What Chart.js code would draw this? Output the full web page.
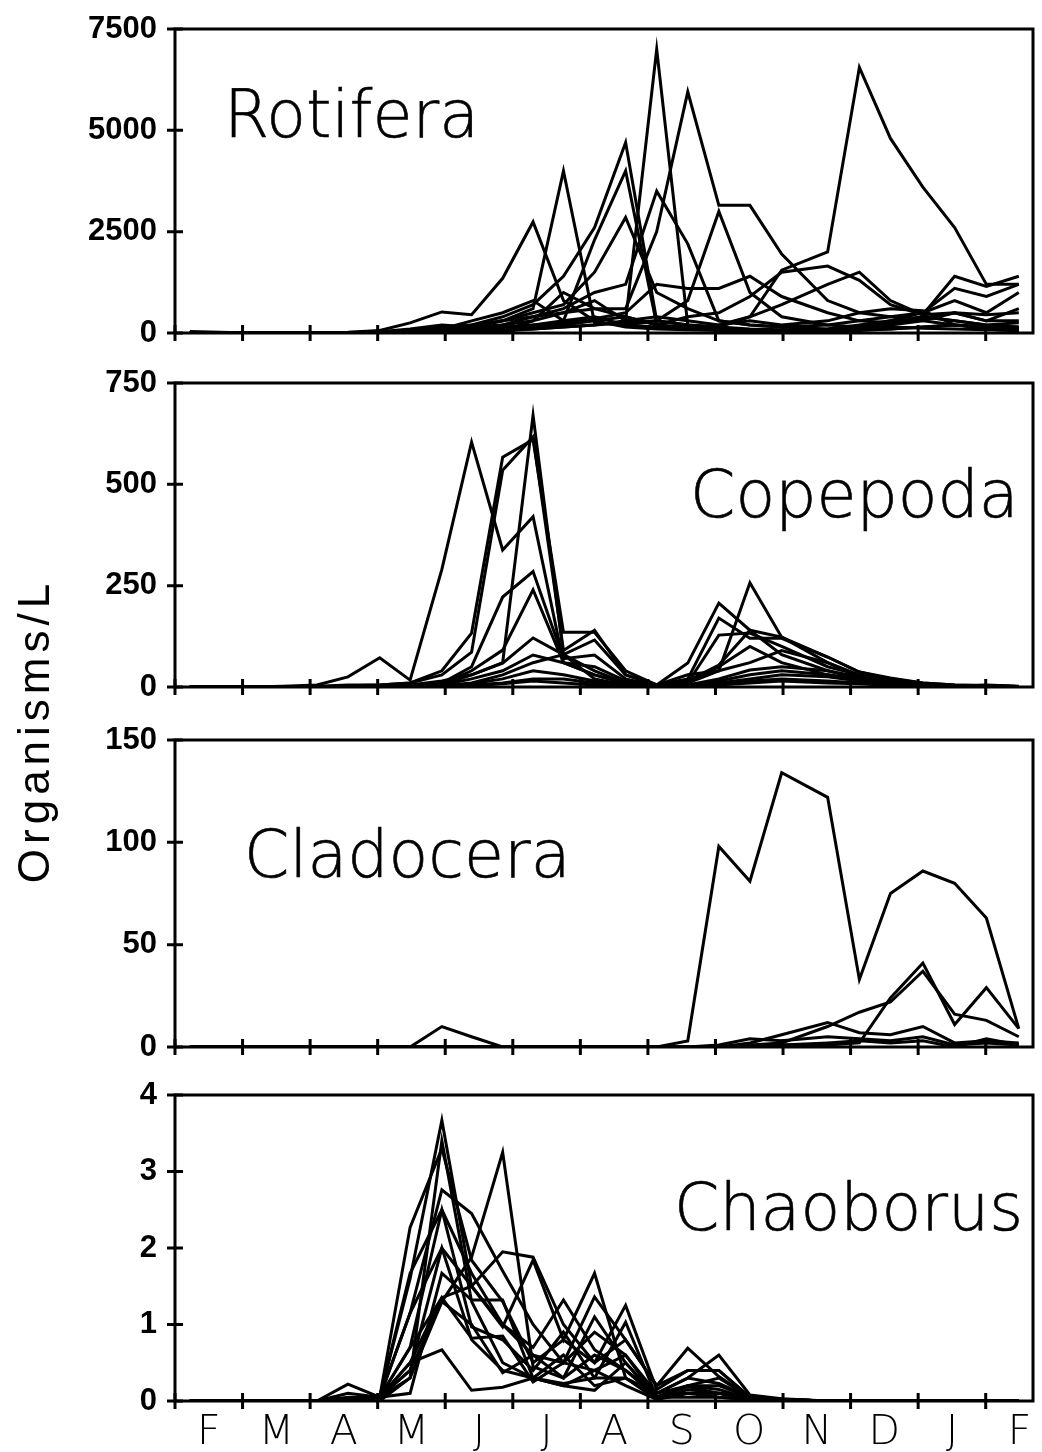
<!DOCTYPE html>
<html lang="en">
<head>
  <meta charset="UTF-8">
  <title>Organisms/L</title>
  <script src="https://cdn.jsdelivr.net/npm/chart.js"></script>
  <style>
    body { margin: 0; background: #fff; }
    #page { position: relative; width: 1042px; height: 1452px; overflow: hidden; }
    .panel { position: absolute; left: 0; }
    .taxon {
      position: absolute;
      font-family: 'DejaVu Sans', sans-serif;
      font-weight: 200;
      font-size: 65px;
      line-height: 65px;
      color: #000;
      white-space: nowrap;
      -webkit-text-stroke: 0.6px #000;
    }
    #ytitle {
      position: absolute;
      left: -126px;
      top: 709px;
      width: 320px;
      height: 44px;
      line-height: 44px;
      text-align: center;
      font-family: 'Liberation Sans', Arial, sans-serif;
      font-size: 44px;
      letter-spacing: 5px;
      color: #000;
      white-space: nowrap;
      transform: rotate(-90deg);
    }
  </style>
</head>
<body>
<div id="page">
  <canvas id="c1" class="panel" width="1042" height="344" style="top:9px"></canvas>
  <canvas id="c2" class="panel" width="1042" height="344" style="top:363px"></canvas>
  <canvas id="c3" class="panel" width="1042" height="347" style="top:720px"></canvas>
  <canvas id="c4" class="panel" width="1042" height="376" style="top:1075px"></canvas>

  <div class="taxon" style="left:224px; top:82px">Rotifera</div>
  <div class="taxon" style="left:690px; top:462px">Copepoda</div>
  <div class="taxon" style="left:244px; top:822px">Cladocera</div>
  <div class="taxon" style="left:674px; top:1175px">Chaoborus</div>
  <div id="ytitle">Organisms/L</div>
</div>

<script>
  // sampling dates, in months after 1 February
  const sampleMonth = [0.22, 1.11, 1.60, 2.10, 2.56, 3.03, 3.48, 3.95, 4.39, 4.85, 5.30, 5.75, 6.21,
                       6.67, 7.13, 7.59, 8.05, 8.51, 8.98, 9.66, 10.13, 10.59, 11.07, 11.54, 12.01, 12.49];
  const monthLabels = ['F', 'M', 'A', 'M', 'J', 'J', 'A', 'S', 'O', 'N', 'D', 'J', 'F'];
  const monthBounds = [0, 1, 2, 3, 4, 5, 6, 7, 8, 9, 10, 11, 12];
  const xMax = 12.7;

  const rotiferaTicks = [0, 2500, 5000, 7500];
  const copepodaTicks = [0, 250, 500, 750];
  const cladoceraTicks = [0, 50, 100, 150];
  const chaoborusTicks = [0, 1, 2, 3, 4];

  // one row per station
  const rotifera = [
    [40, 0, 0, 0, 20, 60, 250, 520, 450, 1350, 2740, 800, 300, 150, 100, 80, 60, 50, 40, 60, 100, 150, 120, 100, 80, 60],
    [0, 0, 0, 0, 10, 30, 100, 200, 150, 300, 600, 4000, 250, 200, 150, 100, 80, 60, 50, 40, 60, 100, 150, 200, 150, 120],
    [0, 0, 0, 0, 0, 20, 80, 150, 200, 400, 700, 1400, 2600, 4700, 300, 200, 150, 100, 80, 100, 200, 300, 400, 300, 200, 250],
    [0, 0, 0, 0, 0, 10, 50, 100, 300, 500, 800, 300, 2300, 4000, 200, 150, 100, 80, 60, 80, 150, 250, 350, 500, 300, 600],
    [0, 0, 0, 0, 10, 20, 60, 100, 150, 300, 500, 700, 1500, 2850, 1000, 600, 300, 200, 150, 200, 300, 400, 500, 800, 500, 1000],
    [0, 0, 0, 0, 0, 10, 30, 80, 150, 200, 400, 600, 1000, 1200, 3500, 2200, 300, 200, 150, 100, 150, 200, 300, 500, 300, 300],
    [0, 0, 0, 0, 0, 10, 40, 100, 100, 200, 300, 500, 800, 300, 7000, 200, 100, 80, 60, 50, 80, 100, 150, 200, 150, 150],
    [0, 0, 0, 0, 10, 20, 50, 100, 200, 300, 400, 500, 600, 600, 2500, 5950, 3150, 3150, 1950, 800, 500, 400, 300, 200, 150, 100],
    [0, 0, 0, 0, 0, 10, 20, 50, 100, 150, 200, 300, 400, 200, 300, 800, 3000, 1000, 400, 200, 150, 300, 500, 1100, 900, 1200],
    [0, 0, 0, 0, 0, 0, 20, 50, 80, 100, 150, 200, 300, 400, 200, 400, 500, 900, 1500, 1650, 1300, 700, 450, 1400, 1150, 1400],
    [0, 0, 0, 0, 0, 10, 30, 60, 80, 120, 200, 250, 350, 500, 1200, 1100, 1100, 1400, 900, 500, 300, 250, 400, 300, 200, 150],
    [0, 0, 0, 0, 0, 0, 10, 30, 50, 80, 100, 150, 200, 250, 300, 200, 150, 400, 1550, 2000, 6550, 4800, 3600, 2600, 1200, 1200],
    [0, 0, 0, 0, 0, 0, 10, 20, 40, 60, 300, 1000, 600, 400, 200, 100, 200, 400, 700, 1200, 1500, 800, 450, 500, 450, 500],
    [0, 0, 0, 0, 0, 0, 0, 10, 20, 50, 100, 150, 200, 300, 400, 300, 200, 300, 200, 300, 500, 600, 550, 200, 100, 50]
  ];

  const copepoda = [
    [0, 0, 2, 5, 25, 72, 17, 290, 604, 338, 420, 60, 30, 10, 3, 10, 50, 100, 60, 30, 15, 8, 5, 3, 2, 1],
    [0, 0, 0, 2, 5, 5, 10, 40, 133, 567, 610, 135, 135, 40, 5, 59, 207, 140, 80, 40, 20, 10, 5, 3, 2, 1],
    [0, 0, 0, 0, 3, 5, 10, 30, 86, 535, 617, 90, 140, 30, 5, 30, 40, 257, 123, 60, 25, 12, 6, 3, 5, 2],
    [0, 0, 0, 0, 0, 2, 5, 15, 30, 60, 670, 80, 116, 30, 5, 20, 170, 120, 120, 74, 37, 22, 10, 5, 3, 1],
    [0, 0, 0, 0, 0, 2, 5, 10, 50, 222, 285, 70, 79, 20, 3, 10, 128, 133, 100, 50, 30, 15, 8, 4, 2, 1],
    [0, 0, 0, 0, 0, 1, 3, 8, 40, 91, 240, 60, 50, 15, 3, 15, 54, 140, 123, 74, 37, 20, 10, 5, 3, 1],
    [0, 0, 0, 0, 0, 1, 2, 5, 30, 59, 121, 80, 40, 10, 2, 10, 40, 60, 90, 60, 30, 15, 8, 4, 2, 0],
    [0, 0, 0, 0, 0, 0, 2, 5, 20, 40, 79, 60, 30, 8, 2, 5, 20, 42, 50, 40, 25, 12, 6, 3, 2, 0],
    [0, 0, 0, 0, 0, 0, 1, 3, 10, 30, 60, 80, 20, 5, 2, 5, 15, 30, 40, 30, 20, 10, 5, 2, 1, 0],
    [0, 0, 0, 0, 0, 0, 1, 2, 8, 20, 40, 30, 15, 5, 1, 3, 10, 20, 30, 25, 15, 8, 4, 2, 1, 0],
    [0, 0, 0, 0, 0, 0, 0, 2, 5, 10, 20, 20, 10, 3, 1, 2, 8, 15, 20, 15, 10, 5, 3, 1, 0, 0],
    [0, 0, 0, 0, 0, 0, 0, 1, 3, 8, 15, 10, 5, 2, 1, 2, 5, 10, 15, 10, 8, 4, 2, 1, 1, 0]
  ];

  const cladocera = [
    [0, 0, 0, 0, 0, 0, 0, 0, 0, 0, 0, 0, 0, 0, 0, 3, 98, 81, 134, 122, 33, 75, 86, 80, 63, 9],
    [0, 0, 0, 0, 0, 0, 0, 10, 5, 0, 0, 0, 0, 0, 0, 0, 0, 1, 2, 10, 17, 22, 37, 16, 13, 5],
    [0, 0, 0, 0, 0, 0, 0, 0, 0, 0, 0, 0, 0, 0, 0, 0, 0, 0, 1, 1, 2, 24, 41, 11, 29, 9],
    [0, 0, 0, 0, 0, 0, 0, 0, 0, 0, 0, 0, 0, 0, 0, 0, 0, 2, 6, 12, 7, 6, 10, 2, 3, 2],
    [0, 0, 0, 0, 0, 0, 0, 0, 0, 0, 0, 0, 0, 0, 0, 0, 1, 4, 3, 5, 4, 3, 5, 1, 2, 1],
    [0, 0, 0, 0, 0, 0, 0, 0, 0, 0, 0, 0, 0, 0, 0, 0, 0, 0, 1, 2, 3, 2, 3, 0, 4, 1]
  ];

  const chaoborus = [
    [0, 0, 0, 0, 0.05, 0.05, 1.6, 3.67, 1.5, 1.0, 0.6, 0.5, 0.9, 0.6, 0.1, 0.3, 0.6, 0.08, 0.03, 0, 0, 0, 0, 0, 0, 0],
    [0, 0, 0, 0, 0.1, 0.05, 2.27, 3.3, 1.84, 1.3, 0.5, 0.8, 0.5, 1.25, 0.15, 0.4, 0.4, 0.05, 0.02, 0, 0, 0, 0, 0, 0, 0],
    [0, 0, 0, 0, 0.22, 0.05, 1.15, 2.76, 2.45, 1.7, 1.0, 0.5, 1.36, 0.8, 0.2, 0.69, 0.32, 0.05, 0.02, 0, 0, 0, 0, 0, 0, 0],
    [0, 0, 0, 0, 0, 0.05, 0.3, 1.3, 1.88, 3.25, 0.45, 0.3, 0.6, 0.4, 0.1, 0.3, 0.23, 0.05, 0.02, 0, 0, 0, 0, 0, 0, 0],
    [0, 0, 0, 0, 0, 0.05, 0.7, 1.35, 1.5, 1.95, 1.88, 1.0, 0.5, 0.8, 0.2, 0.4, 0.4, 0.05, 0.02, 0, 0, 0, 0, 0, 0, 0],
    [0, 0, 0, 0, 0, 0.05, 0.5, 0.67, 0.14, 0.18, 0.3, 0.2, 0.14, 0.5, 0.05, 0.1, 0.1, 0.05, 0.02, 0, 0, 0, 0, 0, 0, 0],
    [0, 0, 0, 0, 0, 0.05, 1.67, 2.5, 1.67, 1.0, 0.7, 1.32, 0.67, 0.4, 0.05, 0.2, 0.2, 0.05, 0.02, 0, 0, 0, 0, 0, 0, 0],
    [0, 0, 0, 0, 0, 0.05, 1.15, 2.0, 1.5, 0.97, 1.84, 0.8, 1.67, 0.3, 0.1, 0.2, 0.3, 0.05, 0.02, 0, 0, 0, 0, 0, 0, 0],
    [0, 0, 0, 0, 0, 0.05, 0.1, 1.67, 1.32, 1.32, 0.3, 0.23, 0.3, 1.03, 0.05, 0.19, 0.1, 0.03, 0.01, 0, 0, 0, 0, 0, 0, 0],
    [0, 0, 0, 0, 0, 0.05, 0.5, 1.35, 0.82, 0.85, 0.25, 0.5, 0.4, 0.2, 0.02, 0.1, 0.1, 0.03, 0.01, 0, 0, 0, 0, 0, 0, 0],
    [0, 0, 0, 0, 0, 0.05, 0.4, 1.3, 1.0, 0.37, 0.6, 0.3, 1.1, 0.5, 0.05, 0.2, 0.15, 0.03, 0.01, 0, 0, 0, 0, 0, 0, 0],
    [0, 0, 0, 0, 0.02, 0.05, 0.7, 2.5, 0.97, 0.8, 0.4, 0.9, 0.3, 0.3, 0.02, 0.15, 0.1, 0.03, 0.01, 0, 0, 0, 0, 0, 0, 0],
    [0, 0, 0, 0, 0, 0.05, 0.4, 2.0, 0.8, 0.4, 0.3, 0.6, 0.2, 0.3, 0.05, 0.1, 0.05, 0.02, 0, 0, 0, 0, 0, 0, 0, 0],
    [0, 0, 0, 0, 0, 0, 0.3, 3.4, 1.3, 0.5, 0.3, 0.2, 0.4, 0.6, 0.05, 0.05, 0.05, 0.02, 0, 0, 0, 0, 0, 0, 0, 0]
  ];

  // box round the plot area plus ticks that cross the axes
  const frameTicks = {
    id: 'frameTicks',
    afterDatasetsDraw(chart) {
      const { ctx, chartArea: a, scales: { x, y } } = chart;
      ctx.save();
      ctx.strokeStyle = '#000';
      ctx.lineWidth = 3;
      ctx.strokeRect(a.left, a.top, a.right - a.left, a.bottom - a.top);
      ctx.beginPath();
      monthBounds.forEach(m => {
        const px = x.getPixelForValue(m);
        ctx.moveTo(px, a.bottom - 8);
        ctx.lineTo(px, a.bottom + 8);
      });
      y.ticks.forEach(t => {
        const py = y.getPixelForValue(t.value);
        ctx.moveTo(a.left - 8, py);
        ctx.lineTo(a.left + 8, py);
      });
      ctx.stroke();
      ctx.restore();
    }
  };

  function makePanel(id, rows, yTicks, showMonths) {
    const datasets = rows.map(row => ({
      data: row.map((v, i) => ({ x: sampleMonth[i], y: v })),
      borderColor: '#000',
      borderWidth: 3,
      pointRadius: 0,
      tension: 0,
      fill: false
    }));

    new Chart(document.getElementById(id), {
      type: 'line',
      data: { datasets: datasets },
      options: {
        responsive: false,
        animation: false,
        events: [],
        layout: { autoPadding: false, padding: { top: 20, right: 9, left: 0, bottom: 0 } },
        plugins: { legend: { display: false }, tooltip: { enabled: false } },
        scales: {
          x: {
            type: 'linear',
            min: 0,
            max: xMax,
            grid: { display: false, drawTicks: false },
            border: { display: false },
            afterBuildTicks: s => { s.ticks = monthLabels.map((m, i) => ({ value: i + 0.5 })); },
            afterFit: s => { s.height = showMonths ? 50 : 20; },
            ticks: {
              display: showMonths,
              autoSkip: false,
              maxRotation: 0,
              padding: 8,
              color: '#000',
              font: { family: 'DejaVu Sans', weight: 200, size: 41 },
              callback: (v, i) => monthLabels[i]
            }
          },
          y: {
            min: 0,
            max: yTicks[yTicks.length - 1],
            // tick marks are drawn by frameTicks; tickLength only pushes the labels off the axis
            grid: { display: false, drawTicks: true, tickLength: 18 },
            border: { display: false },
            afterBuildTicks: s => { s.ticks = yTicks.map(v => ({ value: v })); },
            afterFit: s => { s.width = 175; },
            ticks: {
              padding: 0,
              color: '#000',
              font: { family: 'Liberation Sans', weight: 'bold', size: 31 },
              callback: v => String(v)
            }
          }
        }
      },
      plugins: [frameTicks]
    });
  }

  makePanel('c1', rotifera, rotiferaTicks, false);
  makePanel('c2', copepoda, copepodaTicks, false);
  makePanel('c3', cladocera, cladoceraTicks, false);
  makePanel('c4', chaoborus, chaoborusTicks, true);
</script>
</body>
</html>
